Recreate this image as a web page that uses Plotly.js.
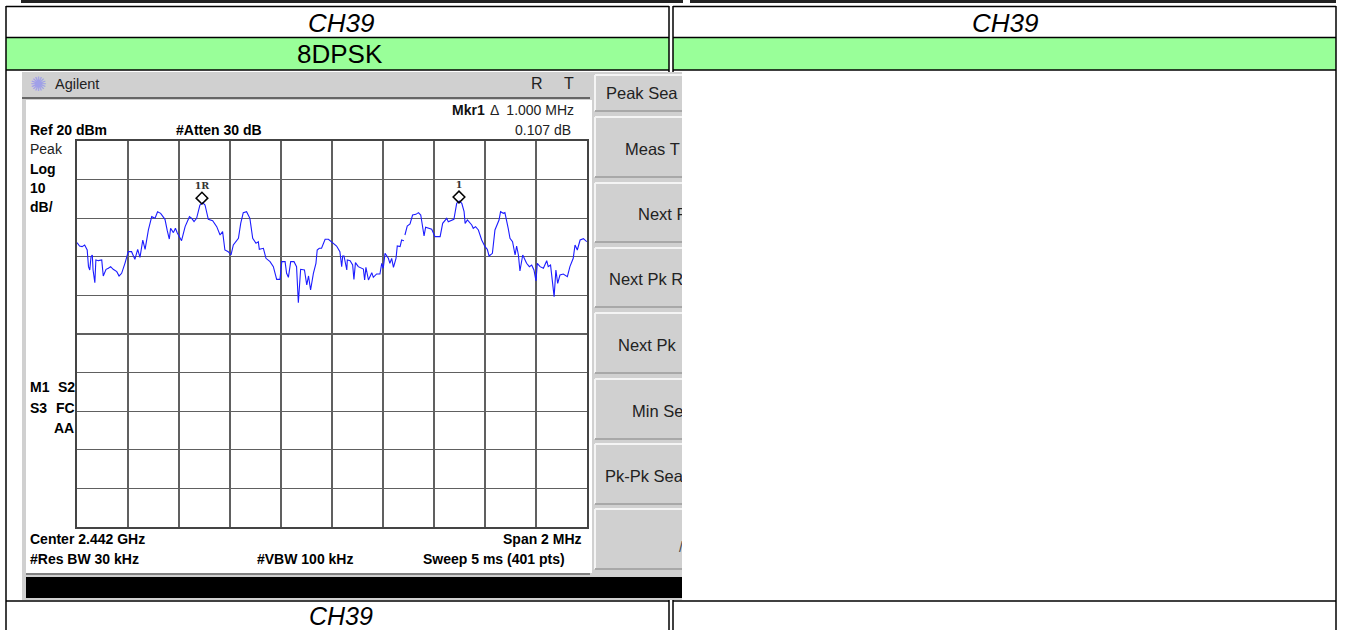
<!DOCTYPE html>
<html><head><meta charset="utf-8">
<script src="https://cdn.plot.ly/plotly-3.0.1.min.js"></script>
<style>html,body{margin:0;padding:0;background:#fff}#c{width:1360px;height:630px}
#clip{position:absolute;left:682px;top:72px;width:20px;height:528px;background:#fff}</style>
</head><body><div id="c"></div><div id="clip"></div>
<script>
// Frequency offset from centre (MHz) and level (dBm)
const freqMHz = [-1,-0.99,-0.98,-0.97,-0.96,-0.955,-0.95,-0.945,-0.94,-0.937,-0.93,-0.926,-0.916,-0.903,-0.897,-0.886,-0.877,-0.868,-0.858,-0.844,-0.835,-0.825,-0.812,-0.799,-0.786,-0.773,-0.762,-0.753,-0.742,-0.733,-0.72,-0.707,-0.694,-0.684,-0.672,-0.655,-0.646,-0.638,-0.633,-0.622,-0.614,-0.607,-0.59,-0.576,-0.559,-0.55,-0.541,-0.531,-0.518,-0.507,-0.498,-0.485,-0.468,-0.452,-0.439,-0.429,-0.42,-0.407,-0.396,-0.387,-0.367,-0.358,-0.348,-0.335,-0.322,-0.311,-0.298,-0.289,-0.285,-0.269,-0.259,-0.243,-0.23,-0.217,-0.204,-0.197,-0.184,-0.178,-0.171,-0.162,-0.149,-0.139,-0.132,-0.123,-0.108,-0.099,-0.092,-0.084,-0.073,-0.063,-0.058,-0.05,-0.041,-0.027,-0.014,0.005,0.018,0.031,0.038,0.042,0.047,0.058,0.06,0.071,0.081,0.086,0.092,0.103,0.123,0.128,0.133,0.143,0.156,0.162,0.175,0.188,0.195,0.201,0.208,0.221,0.227,0.234,0.241,0.251,0.256,0.267,0.273,0.282,0.284,0.286,0.295,0.306,0.316,0.329,0.339,0.348,0.356,0.361,0.367,0.381,0.391,0.404,0.424,0.434,0.45,0.456,0.469,0.478,0.489,0.499,0.509,0.518,0.522,0.531,0.548,0.554,0.563,0.574,0.587,0.6,0.609,0.616,0.629,0.639,0.655,0.661,0.672,0.678,0.691,0.698,0.708,0.718,0.724,0.731,0.737,0.748,0.763,0.774,0.783,0.792,0.8,0.805,0.816,0.829,0.842,0.848,0.857,0.864,0.871,0.878,0.885,0.894,0.907,0.923,0.933,0.946,0.953,0.962,0.973,0.986,0.999];
const levelDbm = [-6.34,-7.2,-7.37,-6.94,-8.24,-12.55,-13.42,-9.96,-9.53,-13.42,-16.7,-10.83,-11,-10.83,-14.97,-13.24,-12.98,-12.55,-13.24,-13.85,-14.97,-14.28,-11.69,-8.67,-8.67,-10.65,-8.06,-10.14,-5.65,-8.06,-3.05,0.4,-0.03,1.69,1.26,-0.29,-3.23,-5.39,-2.62,-3.74,-2.62,-3.74,-5.82,-2.19,0.4,-0.03,-0.9,-0.03,3.42,4.03,3.42,-0.29,-0.64,-2.19,-4.35,-3.49,-8.24,-8.67,-9.53,-6.94,-5.21,-1.33,1.44,1.69,-0.03,-5.21,-6.51,-6.08,-8.06,-7.8,-10.39,-11.26,-12.55,-15.84,-15.84,-11.26,-11.26,-14.28,-15.32,-11.26,-11.26,-12.55,-21.88,-13.24,-13.42,-17.3,-14.97,-18.6,-14.28,-11.69,-8.24,-7.8,-7.8,-5.47,-5.47,-6.51,-7.2,-8.67,-12.55,-9.79,-9.79,-13.42,-10.83,-11,-12.12,-15.84,-11.52,-12.55,-13.16,-16.01,-12.73,-16.01,-14.11,-15.32,-14.45,-14.45,-11.69,-12.98,-9.1,-10.39,-11.69,-10.39,-12.73,-10.39,-7.2,-7.37,-5.65,-5.82,null,-4.35,-2.02,-1.5,0.83,1,1.44,0.83,-2.19,-4.61,-2.36,-2.62,-2.88,-4.78,-4.78,-1.33,-0.03,-0.9,-0.46,-0.29,3.85,4.46,3.85,1.69,-1.33,-0.46,-1.76,-2.62,-2.19,-3.05,-5.65,-7.37,-8.06,-9.79,-9.1,-3.05,-0.46,1.69,1.26,1.44,-2.62,-5.21,-6.08,-9.53,-7.2,-9.53,-13.67,-9.53,-11.69,-12.55,-12.12,-13.42,-16.27,-11.69,-12.55,-12.98,-11,-12.55,-12.12,-16.87,-20.33,-13.42,-16.87,-14.71,-14.45,-15.14,-12.55,-10.39,-6.94,-8.24,-5.65,-5.3,-6.08];
const markerFreq = [-0.51, 0.498];
const markerLevel = [5.2, 5.5];
const markerLabels = ['1R', '1'];
const softkeys = ['Peak Sea','Meas T','Next P','Next Pk R','Next Pk','Min Se','Pk-Pk Sea'];
const softkeyY = [93,149,214,279,345,411,476];
const softkeyX = [605,623.5,637,608,617,630.5,603.5];

const W=1360,H=630;
const px=x=>x/W, py=y=>1-y/H;
const shapes=[];
function box(x0,y0,x1,y1,fill,line,lw){shapes.push({type:'rect',xref:'paper',yref:'paper',layer:'below',x0:px(x0),x1:px(x1),y0:py(y0),y1:py(y1),fillcolor:fill||'rgba(0,0,0,0)',line:{color:line||'rgba(0,0,0,0)',width:line?(lw||1):0}});}
function hline(x0,x1,y,c,w){shapes.push({type:'line',xref:'paper',yref:'paper',layer:'below',x0:px(x0),x1:px(x1),y0:py(y),y1:py(y),line:{color:c,width:w}});}
function vline(x,y0,y1,c,w){shapes.push({type:'line',xref:'paper',yref:'paper',layer:'below',x0:px(x),x1:px(x),y0:py(y0),y1:py(y1),line:{color:c,width:w}});}

// table
box(6,38,669,70,'#99ff99');
box(673,38,1336,70,'#99ff99');
hline(21,683,1.5,'#222',3); hline(690,1336,1.5,'#222',3);
[[6,669],[673,1336]].forEach(([a,b])=>{
  hline(a,b,6.5,'#000',1.5); hline(a,b,37.5,'#000',1.5); hline(a,b,70,'#000',1.5); hline(a,b,601,'#000',1.5);
  vline(a,6,630,'#000',1.5); vline(b,6,630,'#000',1.5);
});
// instrument
box(22,72,682,600,'#d0d0d0');
box(26,100,592,573,'#ffffff');
hline(22,590,98,'#666',2);
hline(26,590,574,'#333',1);
box(26,577,682,598,'#000');
// softkeys
[[75,111],[117,177],[183,242],[248,307],[313,373],[379,439],[444,504],[509,569]].forEach(([a,b])=>{
  box(595,a,682,b,'#d0d0d0');
  hline(595,682,a,'#f4f4f4',2); vline(595,a,b,'#f4f4f4',2); hline(595,682,b,'#a8a8a8',2);
});

const ann=[];
function t(x,y,s,size,o){o=o||{};ann.push({xref:'paper',yref:'paper',x:px(x),y:py(y),text:s,showarrow:false,xanchor:o.a||'left',yanchor:'middle',borderpad:0,align:'left',font:{family:o.f||'"Liberation Sans"',size:size,color:o.c||'#000'}});}
t(341,23,'<i>CH39</i>',26,{a:'center'});
t(1005,23,'<i>CH39</i>',26,{a:'center'});
t(339.5,54,'8DPSK',26,{a:'center'});
t(341,616,'<i>CH39</i>',25,{a:'center'});
t(29,84,'✺',20,{c:'#a0a0e8',f:'"DejaVu Sans"'});
t(53.5,84,'Agilent',14.5,{c:'#222'});
t(530,84,'R',16,{c:'#222'}); t(563,84,'T',16,{c:'#222'});
softkeys.forEach((s,i)=>t(softkeyX[i],softkeyY[i],s,16.5,{c:'#222'}));
t(678,547,'/',14,{c:'#444'});
const B=14;
t(451,110,'<b>Mkr1</b>',B,{c:'#111'}); t(489,110,'Δ  1.000 MHz',B,{c:'#222'});
t(29,130,'<b>Ref 20 dBm</b>',B); t(175,130,'<b>#Atten 30 dB</b>',B);
t(514,130,'0.107 dB',B,{c:'#222'});
t(29,149,'Peak',B,{c:'#222'}); t(29,169,'<b>Log</b>',B); t(29,188,'<b>10</b>',B); t(29,207,'<b>dB/</b>',B);
t(29,387,'<b>M1</b>',B); t(57,387,'<b>S2</b>',B); t(29,408,'<b>S3</b>',B); t(55,408,'<b>FC</b>',B); t(53,428,'<b>AA</b>',B);
t(29,539,'<b>Center 2.442 GHz</b>',B); t(502,539,'<b>Span 2 MHz</b>',B);
t(29,559,'<b>#Res BW 30 kHz</b>',B); t(256,559,'<b>#VBW 100 kHz</b>',B); t(422,559,'<b>Sweep 5 ms (401 pts)</b>',B);

const data=[
 {type:'scatter',mode:'lines',x:freqMHz,y:levelDbm,connectgaps:false,line:{color:'#1c1cff',width:1.1},hoverinfo:'skip'},
 {type:'scatter',mode:'markers+text',x:markerFreq,y:markerLevel,text:markerLabels,textposition:'top center',textfont:{family:'"DejaVu Serif"',size:9.5,weight:'bold',color:'#333'},marker:{symbol:'diamond-open',size:9,color:'#000',line:{width:1.5,color:'#000'}},hoverinfo:'skip'}
];
const layout={width:W,height:H,margin:{l:0,r:0,t:0,b:0},paper_bgcolor:'#fff',plot_bgcolor:'rgba(0,0,0,0)',showlegend:false,shapes,annotations:ann,
 xaxis:{domain:[px(77),px(587)],range:[-1,1],dtick:0.2,tick0:-1,showticklabels:false,ticks:'',zeroline:false,showgrid:true,gridcolor:'#606060',gridwidth:1.1,showline:true,mirror:true,linecolor:'#444',linewidth:2},
 yaxis:{domain:[py(527),py(141)],range:[-80,20],dtick:10,tick0:-80,showticklabels:false,ticks:'',zeroline:false,showgrid:true,gridcolor:'#606060',gridwidth:1.1,showline:true,mirror:true,linecolor:'#444',linewidth:2}};
Plotly.newPlot('c',data,layout,{displayModeBar:false,staticPlot:true});
</script></body></html>
